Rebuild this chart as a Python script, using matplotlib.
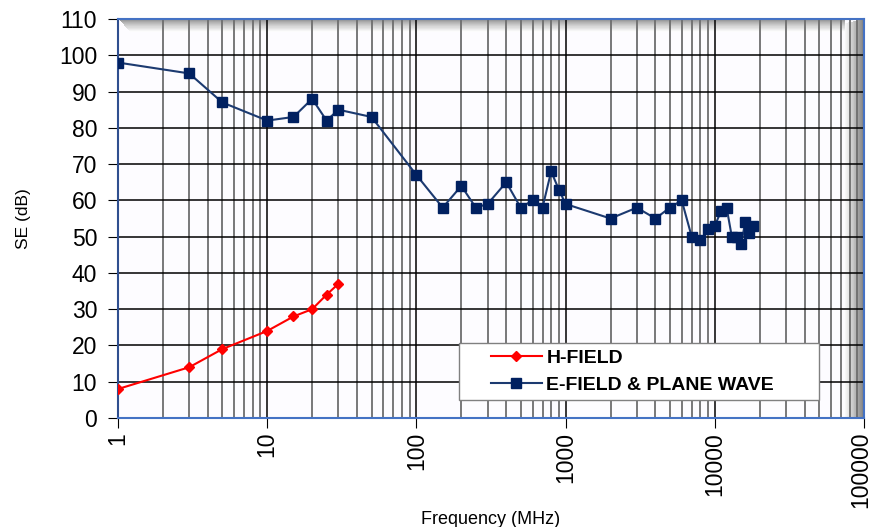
import numpy as np
import matplotlib
matplotlib.use('Agg')
import matplotlib.pyplot as plt
import matplotlib.transforms as mtransforms
from matplotlib.patches import Rectangle
from matplotlib.ticker import LogLocator, FixedLocator, NullFormatter

plt.rcParams['font.family'] = ['Liberation Sans', 'DejaVu Sans']

# shielding effectiveness data
h_freq = [1, 3, 5, 10, 15, 20, 25, 30]
h_se = [8, 14, 19, 24, 28, 30, 34, 37]

e_freq = [1, 3, 5, 10, 15, 20, 25, 30, 50, 100, 150, 200, 250, 300, 400, 500,
          600, 700, 800, 900, 1000, 2000, 3000, 4000, 5000, 6000, 7000, 8000,
          9000, 10000, 11000, 12000, 13000, 14000, 15000, 16000, 17000, 18000]
e_se = [98, 95, 87, 82, 83, 88, 82, 85, 83, 67, 58, 64, 58, 59, 65, 58,
        60, 58, 68, 63, 59, 55, 58, 55, 58, 60, 50, 49,
        52, 53, 57, 58, 50, 50, 48, 54, 51, 53]

x_ticks = [1, 10, 100, 1000, 10000, 100000]
y_ticks = list(range(0, 111, 10))

fig = plt.figure(figsize=(8.73, 5.27), dpi=100)
ax = fig.add_axes([0.1352, 0.2068, 0.8545, 0.7571])
ax.set_facecolor('#fdfcff')

ax.set_xscale('log')
ax.set_xlim(1, 100000)
ax.set_ylim(0, 110)

# grid
ax.xaxis.set_major_locator(FixedLocator(x_ticks))
ax.xaxis.set_minor_locator(LogLocator(base=10, subs=np.arange(2, 10)))
ax.xaxis.set_minor_formatter(NullFormatter())
ax.set_xticklabels([str(t) for t in x_ticks], rotation=90)
ax.set_yticks(y_ticks)
ax.grid(which='major', axis='both', color='black', lw=1.1)
ax.grid(which='minor', axis='x', color='#6e6e6e', lw=1.3)
ax.set_axisbelow(True)

# 3d-ish wall shadow along top and right, built from thin strips behind the grid
n = 24
th = 0.032   # top band height (axes fraction)
rw = 0.026   # right band width
for i in range(n):
    t = i / (n - 1)
    g = 0.55 + 0.44 * t ** 0.8
    y0 = 1.0 - th * (i + 1) / n
    x_start = 0.016 * (i + 1) / n
    ax.add_patch(Rectangle((x_start, y0), 1.0 - rw - x_start, th / n,
                           transform=ax.transAxes, facecolor=(g, g, g), lw=0,
                           zorder=0.2))
    x0 = 1.0 - rw * (i + 1) / n
    g2 = 0.5 + 0.49 * t
    ax.add_patch(Rectangle((x0, 0.0), rw / n, 1.0 - 0.01 * (i + 1) / n,
                           transform=ax.transAxes, facecolor=(g2, g2, g2),
                           lw=0, zorder=0.2))

ax.plot(h_freq, h_se, color='#ff0000', marker='D', ms=5, lw=1.5,
        label='H-FIELD', zorder=3)
ax.plot(e_freq, e_se, color='#1c3a70', marker='s', ms=7, mfc='#002060',
        mec='#002060', lw=1.5, label='E-FIELD & PLANE WAVE', zorder=3)

for s in ax.spines.values():
    s.set_color('#4472c4')
    s.set_linewidth(1.5)
ax.spines['left'].set_color('#2f4f8f')

ax.tick_params(axis='y', which='major', direction='out', length=7,
               color='black', labelsize=16.5, pad=8)
ax.tick_params(axis='x', which='major', direction='out', length=7,
               color='black', labelsize=16.5, pad=3)
ax.tick_params(axis='x', which='minor', length=0)

# keep the last label inside the figure
last = ax.get_xticklabels()[-1]
last.set_transform(last.get_transform() +
                   mtransforms.ScaledTranslation(-3 / 100, 0, fig.dpi_scale_trans))

ax.set_xlabel('Frequency (MHz)', fontsize=13, labelpad=2)
ax.set_ylabel('SE (dB)', fontsize=12.5, labelpad=20)

# legend box drawn by hand, entries placed inside it
box = Rectangle((0.457, 0.045), 0.483, 0.143, transform=ax.transAxes,
                facecolor='white', edgecolor='#808080', lw=1.0, zorder=4)
ax.add_patch(box)
leg = ax.legend(loc='center left', bbox_to_anchor=(0.5, 0.1165),
                frameon=False, handlelength=2.6, handletextpad=0.25,
                prop={'weight': 'bold', 'size': 14}, labelspacing=0.45,
                borderaxespad=0, borderpad=0)
leg.set_zorder(5)

fig.savefig('out.png', dpi=100)
